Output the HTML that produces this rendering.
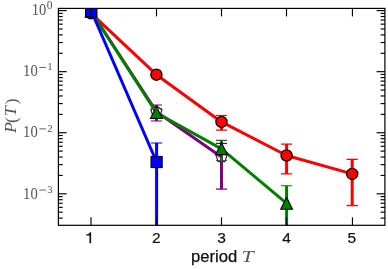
<!DOCTYPE html><html><head><meta charset="utf-8"><style>html,body{margin:0;padding:0;background:#fff}svg{display:block;will-change:transform;transform:translateZ(0)}text{font-family:"Liberation Sans",sans-serif}.s{font-family:"Liberation Serif",serif}</style></head><body>
<svg width="388" height="269" viewBox="0 0 388 269">
<rect width="388" height="269" fill="#fff"/>
<defs><clipPath id="c"><rect x="58.4" y="8.4" width="326.5" height="216.9"/></clipPath></defs>
<g clip-path="url(#c)">
<line x1="221.50" y1="115.5" x2="221.50" y2="130.1" stroke="#ff0000" stroke-width="3.0"/>
<line x1="286.60" y1="144.1" x2="286.60" y2="173.9" stroke="#ff0000" stroke-width="3.0"/>
<line x1="352.20" y1="159.4" x2="352.20" y2="205.6" stroke="#ff0000" stroke-width="3.0"/>
<line x1="156.40" y1="105.0" x2="156.40" y2="121.0" stroke="#800080" stroke-width="3.0"/>
<line x1="221.50" y1="143.4" x2="221.50" y2="189.1" stroke="#800080" stroke-width="3.0"/>
<line x1="156.40" y1="108.5" x2="156.40" y2="117.0" stroke="#008000" stroke-width="3.0"/>
<line x1="221.50" y1="140.4" x2="221.50" y2="160.5" stroke="#008000" stroke-width="3.0"/>
<line x1="286.60" y1="185.7" x2="286.60" y2="260" stroke="#008000" stroke-width="3.0"/>
<line x1="156.60" y1="143.0" x2="156.60" y2="260" stroke="#0000ff" stroke-width="3.0"/>
<polyline points="91.10,13.3 156.40,74.7 221.50,121.95 286.60,155.5 352.20,173.9" fill="none" stroke="#ff0000" stroke-width="3.0" stroke-linejoin="round"/>
<circle cx="91.10" cy="13.3" r="5.6" fill="#ff0000" stroke="#000" stroke-width="1.3"/>
<circle cx="156.40" cy="74.7" r="5.6" fill="#ff0000" stroke="#000" stroke-width="1.3"/>
<circle cx="221.50" cy="121.95" r="5.6" fill="#ff0000" stroke="#000" stroke-width="1.3"/>
<circle cx="286.60" cy="155.5" r="5.6" fill="#ff0000" stroke="#000" stroke-width="1.3"/>
<circle cx="352.20" cy="173.9" r="5.6" fill="#ff0000" stroke="#000" stroke-width="1.3"/>
<line x1="215.90" y1="115.5" x2="227.10" y2="115.5" stroke="#ff0000" stroke-width="1.15"/>
<line x1="215.90" y1="130.1" x2="227.10" y2="130.1" stroke="#ff0000" stroke-width="1.15"/>
<line x1="281.00" y1="144.1" x2="292.20" y2="144.1" stroke="#ff0000" stroke-width="1.15"/>
<line x1="281.00" y1="173.9" x2="292.20" y2="173.9" stroke="#ff0000" stroke-width="1.15"/>
<line x1="346.60" y1="159.4" x2="357.80" y2="159.4" stroke="#ff0000" stroke-width="1.15"/>
<line x1="346.60" y1="205.6" x2="357.80" y2="205.6" stroke="#ff0000" stroke-width="1.15"/>
<polyline points="91.10,11.5 156.40,111.65 221.50,156.9" fill="none" stroke="#800080" stroke-width="3.0" stroke-linejoin="round"/>
<polygon points="91.10,5.70 96.62,9.71 94.51,16.19 87.69,16.19 85.58,9.71" fill="none" stroke="#800080" stroke-width="1.3" stroke-linejoin="miter"/>
<polygon points="156.40,105.85 161.92,109.86 159.81,116.34 152.99,116.34 150.88,109.86" fill="none" stroke="#800080" stroke-width="1.3" stroke-linejoin="miter"/>
<polygon points="221.50,151.10 227.02,155.11 224.91,161.59 218.09,161.59 215.98,155.11" fill="none" stroke="#800080" stroke-width="1.3" stroke-linejoin="miter"/>
<line x1="150.80" y1="105.0" x2="162.00" y2="105.0" stroke="#800080" stroke-width="1.15"/>
<line x1="150.80" y1="121.0" x2="162.00" y2="121.0" stroke="#800080" stroke-width="1.15"/>
<line x1="215.90" y1="143.4" x2="227.10" y2="143.4" stroke="#800080" stroke-width="1.15"/>
<line x1="215.90" y1="189.1" x2="227.10" y2="189.1" stroke="#800080" stroke-width="1.15"/>
<polyline points="91.10,11.5 156.40,112.7 221.50,148.85 286.60,203.45" fill="none" stroke="#008000" stroke-width="3.0" stroke-linejoin="round"/>
<polygon points="91.10,5.30 97.00,17.30 85.20,17.30" fill="#008000" stroke="#000" stroke-width="1.1" stroke-linejoin="miter"/>
<polygon points="156.40,106.50 162.30,118.50 150.50,118.50" fill="#008000" stroke="#000" stroke-width="1.1" stroke-linejoin="miter"/>
<polygon points="221.50,142.65 227.40,154.65 215.60,154.65" fill="#008000" stroke="#000" stroke-width="1.1" stroke-linejoin="miter"/>
<polygon points="286.60,197.25 292.50,209.25 280.70,209.25" fill="#008000" stroke="#000" stroke-width="1.1" stroke-linejoin="miter"/>
<line x1="150.80" y1="108.5" x2="162.00" y2="108.5" stroke="#008000" stroke-width="1.15"/>
<line x1="150.80" y1="117.0" x2="162.00" y2="117.0" stroke="#008000" stroke-width="1.15"/>
<line x1="215.90" y1="140.4" x2="227.10" y2="140.4" stroke="#008000" stroke-width="1.15"/>
<line x1="215.90" y1="160.5" x2="227.10" y2="160.5" stroke="#008000" stroke-width="1.15"/>
<line x1="281.00" y1="185.7" x2="292.20" y2="185.7" stroke="#008000" stroke-width="1.15"/>
<line x1="281.00" y1="260" x2="292.20" y2="260" stroke="#008000" stroke-width="1.15"/>
<polyline points="91.30,11.0 156.60,162.0" fill="none" stroke="#0000ff" stroke-width="3.0" stroke-linejoin="round"/>
<rect x="85.70" y="5.40" width="11.2" height="11.2" fill="#0000ff" stroke="#000" stroke-width="1"/>
<rect x="151.00" y="156.40" width="11.2" height="11.2" fill="#0000ff" stroke="#000" stroke-width="1"/>
<line x1="151.00" y1="143.0" x2="162.20" y2="143.0" stroke="#0000ff" stroke-width="1.15"/>
<line x1="151.00" y1="260" x2="162.20" y2="260" stroke="#0000ff" stroke-width="1.15"/>
</g>
<line x1="91.00" y1="225.3" x2="91.00" y2="217.3" stroke="#000" stroke-width="1.15"/>
<line x1="91.20" y1="8.4" x2="91.20" y2="16.4" stroke="#000" stroke-width="1.15"/>
<line x1="156.50" y1="225.3" x2="156.50" y2="217.3" stroke="#000" stroke-width="1.15"/>
<line x1="156.50" y1="8.4" x2="156.50" y2="16.4" stroke="#000" stroke-width="1.15"/>
<line x1="221.50" y1="225.3" x2="221.50" y2="217.3" stroke="#000" stroke-width="1.15"/>
<line x1="221.50" y1="8.4" x2="221.50" y2="16.4" stroke="#000" stroke-width="1.15"/>
<line x1="286.50" y1="225.3" x2="286.50" y2="217.3" stroke="#000" stroke-width="1.15"/>
<line x1="286.50" y1="8.4" x2="286.50" y2="16.4" stroke="#000" stroke-width="1.15"/>
<line x1="352.45" y1="225.3" x2="352.45" y2="217.3" stroke="#000" stroke-width="1.15"/>
<line x1="352.45" y1="8.4" x2="352.45" y2="16.4" stroke="#000" stroke-width="1.15"/>
<line x1="58.4" y1="10.60" x2="66.7" y2="10.60" stroke="#000" stroke-width="1.15"/>
<line x1="384.9" y1="10.60" x2="376.59999999999997" y2="10.60" stroke="#000" stroke-width="1.15"/>
<line x1="58.4" y1="71.67" x2="66.7" y2="71.67" stroke="#000" stroke-width="1.15"/>
<line x1="384.9" y1="71.67" x2="376.59999999999997" y2="71.67" stroke="#000" stroke-width="1.15"/>
<line x1="58.4" y1="53.29" x2="62.699999999999996" y2="53.29" stroke="#000" stroke-width="1.15"/>
<line x1="384.9" y1="53.29" x2="380.59999999999997" y2="53.29" stroke="#000" stroke-width="1.15"/>
<line x1="58.4" y1="42.53" x2="62.699999999999996" y2="42.53" stroke="#000" stroke-width="1.15"/>
<line x1="384.9" y1="42.53" x2="380.59999999999997" y2="42.53" stroke="#000" stroke-width="1.15"/>
<line x1="58.4" y1="34.90" x2="62.699999999999996" y2="34.90" stroke="#000" stroke-width="1.15"/>
<line x1="384.9" y1="34.90" x2="380.59999999999997" y2="34.90" stroke="#000" stroke-width="1.15"/>
<line x1="58.4" y1="28.98" x2="62.699999999999996" y2="28.98" stroke="#000" stroke-width="1.15"/>
<line x1="384.9" y1="28.98" x2="380.59999999999997" y2="28.98" stroke="#000" stroke-width="1.15"/>
<line x1="58.4" y1="24.15" x2="62.699999999999996" y2="24.15" stroke="#000" stroke-width="1.15"/>
<line x1="384.9" y1="24.15" x2="380.59999999999997" y2="24.15" stroke="#000" stroke-width="1.15"/>
<line x1="58.4" y1="20.06" x2="62.699999999999996" y2="20.06" stroke="#000" stroke-width="1.15"/>
<line x1="384.9" y1="20.06" x2="380.59999999999997" y2="20.06" stroke="#000" stroke-width="1.15"/>
<line x1="58.4" y1="16.52" x2="62.699999999999996" y2="16.52" stroke="#000" stroke-width="1.15"/>
<line x1="384.9" y1="16.52" x2="380.59999999999997" y2="16.52" stroke="#000" stroke-width="1.15"/>
<line x1="58.4" y1="13.39" x2="62.699999999999996" y2="13.39" stroke="#000" stroke-width="1.15"/>
<line x1="384.9" y1="13.39" x2="380.59999999999997" y2="13.39" stroke="#000" stroke-width="1.15"/>
<line x1="58.4" y1="132.74" x2="66.7" y2="132.74" stroke="#000" stroke-width="1.15"/>
<line x1="384.9" y1="132.74" x2="376.59999999999997" y2="132.74" stroke="#000" stroke-width="1.15"/>
<line x1="58.4" y1="114.36" x2="62.699999999999996" y2="114.36" stroke="#000" stroke-width="1.15"/>
<line x1="384.9" y1="114.36" x2="380.59999999999997" y2="114.36" stroke="#000" stroke-width="1.15"/>
<line x1="58.4" y1="103.60" x2="62.699999999999996" y2="103.60" stroke="#000" stroke-width="1.15"/>
<line x1="384.9" y1="103.60" x2="380.59999999999997" y2="103.60" stroke="#000" stroke-width="1.15"/>
<line x1="58.4" y1="95.97" x2="62.699999999999996" y2="95.97" stroke="#000" stroke-width="1.15"/>
<line x1="384.9" y1="95.97" x2="380.59999999999997" y2="95.97" stroke="#000" stroke-width="1.15"/>
<line x1="58.4" y1="90.05" x2="62.699999999999996" y2="90.05" stroke="#000" stroke-width="1.15"/>
<line x1="384.9" y1="90.05" x2="380.59999999999997" y2="90.05" stroke="#000" stroke-width="1.15"/>
<line x1="58.4" y1="85.22" x2="62.699999999999996" y2="85.22" stroke="#000" stroke-width="1.15"/>
<line x1="384.9" y1="85.22" x2="380.59999999999997" y2="85.22" stroke="#000" stroke-width="1.15"/>
<line x1="58.4" y1="81.13" x2="62.699999999999996" y2="81.13" stroke="#000" stroke-width="1.15"/>
<line x1="384.9" y1="81.13" x2="380.59999999999997" y2="81.13" stroke="#000" stroke-width="1.15"/>
<line x1="58.4" y1="77.59" x2="62.699999999999996" y2="77.59" stroke="#000" stroke-width="1.15"/>
<line x1="384.9" y1="77.59" x2="380.59999999999997" y2="77.59" stroke="#000" stroke-width="1.15"/>
<line x1="58.4" y1="74.46" x2="62.699999999999996" y2="74.46" stroke="#000" stroke-width="1.15"/>
<line x1="384.9" y1="74.46" x2="380.59999999999997" y2="74.46" stroke="#000" stroke-width="1.15"/>
<line x1="58.4" y1="193.81" x2="66.7" y2="193.81" stroke="#000" stroke-width="1.15"/>
<line x1="384.9" y1="193.81" x2="376.59999999999997" y2="193.81" stroke="#000" stroke-width="1.15"/>
<line x1="58.4" y1="175.43" x2="62.699999999999996" y2="175.43" stroke="#000" stroke-width="1.15"/>
<line x1="384.9" y1="175.43" x2="380.59999999999997" y2="175.43" stroke="#000" stroke-width="1.15"/>
<line x1="58.4" y1="164.67" x2="62.699999999999996" y2="164.67" stroke="#000" stroke-width="1.15"/>
<line x1="384.9" y1="164.67" x2="380.59999999999997" y2="164.67" stroke="#000" stroke-width="1.15"/>
<line x1="58.4" y1="157.04" x2="62.699999999999996" y2="157.04" stroke="#000" stroke-width="1.15"/>
<line x1="384.9" y1="157.04" x2="380.59999999999997" y2="157.04" stroke="#000" stroke-width="1.15"/>
<line x1="58.4" y1="151.12" x2="62.699999999999996" y2="151.12" stroke="#000" stroke-width="1.15"/>
<line x1="384.9" y1="151.12" x2="380.59999999999997" y2="151.12" stroke="#000" stroke-width="1.15"/>
<line x1="58.4" y1="146.29" x2="62.699999999999996" y2="146.29" stroke="#000" stroke-width="1.15"/>
<line x1="384.9" y1="146.29" x2="380.59999999999997" y2="146.29" stroke="#000" stroke-width="1.15"/>
<line x1="58.4" y1="142.20" x2="62.699999999999996" y2="142.20" stroke="#000" stroke-width="1.15"/>
<line x1="384.9" y1="142.20" x2="380.59999999999997" y2="142.20" stroke="#000" stroke-width="1.15"/>
<line x1="58.4" y1="138.66" x2="62.699999999999996" y2="138.66" stroke="#000" stroke-width="1.15"/>
<line x1="384.9" y1="138.66" x2="380.59999999999997" y2="138.66" stroke="#000" stroke-width="1.15"/>
<line x1="58.4" y1="135.53" x2="62.699999999999996" y2="135.53" stroke="#000" stroke-width="1.15"/>
<line x1="384.9" y1="135.53" x2="380.59999999999997" y2="135.53" stroke="#000" stroke-width="1.15"/>
<line x1="58.4" y1="218.11" x2="62.699999999999996" y2="218.11" stroke="#000" stroke-width="1.15"/>
<line x1="384.9" y1="218.11" x2="380.59999999999997" y2="218.11" stroke="#000" stroke-width="1.15"/>
<line x1="58.4" y1="212.19" x2="62.699999999999996" y2="212.19" stroke="#000" stroke-width="1.15"/>
<line x1="384.9" y1="212.19" x2="380.59999999999997" y2="212.19" stroke="#000" stroke-width="1.15"/>
<line x1="58.4" y1="207.36" x2="62.699999999999996" y2="207.36" stroke="#000" stroke-width="1.15"/>
<line x1="384.9" y1="207.36" x2="380.59999999999997" y2="207.36" stroke="#000" stroke-width="1.15"/>
<line x1="58.4" y1="203.27" x2="62.699999999999996" y2="203.27" stroke="#000" stroke-width="1.15"/>
<line x1="384.9" y1="203.27" x2="380.59999999999997" y2="203.27" stroke="#000" stroke-width="1.15"/>
<line x1="58.4" y1="199.73" x2="62.699999999999996" y2="199.73" stroke="#000" stroke-width="1.15"/>
<line x1="384.9" y1="199.73" x2="380.59999999999997" y2="199.73" stroke="#000" stroke-width="1.15"/>
<line x1="58.4" y1="196.60" x2="62.699999999999996" y2="196.60" stroke="#000" stroke-width="1.15"/>
<line x1="384.9" y1="196.60" x2="380.59999999999997" y2="196.60" stroke="#000" stroke-width="1.15"/>
<rect x="58.4" y="8.4" width="326.5" height="216.9" fill="none" stroke="#000" stroke-width="1.2"/>
<g opacity="0.999">
<text x="156.30" y="243.2" font-size="15.5" text-anchor="middle" fill="#111" stroke="#111" stroke-width="0.2">2</text>
<text x="221.60" y="243.2" font-size="15.5" text-anchor="middle" fill="#111" stroke="#111" stroke-width="0.2">3</text>
<text x="286.45" y="243.2" font-size="15.5" text-anchor="middle" fill="#111" stroke="#111" stroke-width="0.2">4</text>
<text x="351.85" y="243.2" font-size="15.5" text-anchor="middle" fill="#111" stroke="#111" stroke-width="0.2">5</text>
<path d="M91.12,232.15 L91.12,243.2 L89.45,243.2 L89.45,235.50 L86.20,235.50 L86.20,234.30 C88.40,234.15 89.55,233.35 90.00,232.15 Z" fill="#111"/>
<text class="s" x="46.3" y="15.0" font-size="16.5" text-anchor="end" fill="#555" textLength="14.6" lengthAdjust="spacingAndGlyphs">10</text>
<text class="s" x="46.699999999999996" y="9.2" font-size="11.5" text-anchor="start" fill="#555">0</text>
<text class="s" x="37.7" y="75.9" font-size="16.5" text-anchor="end" fill="#555" textLength="14.6" lengthAdjust="spacingAndGlyphs">10</text>
<rect x="39.300000000000004" y="66.95" width="6.7" height="1.0" fill="#666"/>
<text class="s" x="47.300000000000004" y="70.4" font-size="10.8" text-anchor="start" fill="#555">1</text>
<text class="s" x="37.7" y="137.3" font-size="16.5" text-anchor="end" fill="#555" textLength="14.6" lengthAdjust="spacingAndGlyphs">10</text>
<rect x="39.300000000000004" y="128.35" width="6.7" height="1.0" fill="#666"/>
<text class="s" x="47.300000000000004" y="131.8" font-size="10.8" text-anchor="start" fill="#555">2</text>
<text class="s" x="37.7" y="198.5" font-size="16.5" text-anchor="end" fill="#555" textLength="14.6" lengthAdjust="spacingAndGlyphs">10</text>
<rect x="39.300000000000004" y="189.55" width="6.7" height="1.0" fill="#666"/>
<text class="s" x="47.300000000000004" y="193.0" font-size="10.8" text-anchor="start" fill="#555">3</text>
<text x="191.0" y="262.2" font-size="16.8" fill="#111" stroke="#111" stroke-width="0.25" textLength="46.2" lengthAdjust="spacingAndGlyphs">period</text>
<text class="s" x="241.6" y="262.2" font-size="17.6" font-style="italic" fill="#555" textLength="12.2" lengthAdjust="spacingAndGlyphs">T</text>
<g transform="translate(16.2,132.8) rotate(-90)" fill="#555" class="s">
<text class="s" x="-0.3" y="0" font-size="16.5" font-style="italic" textLength="11" lengthAdjust="spacingAndGlyphs">P</text>
<text class="s" x="9.8" y="0.6" font-size="17.5">(</text>
<text class="s" x="16.6" y="0" font-size="16.5" font-style="italic" textLength="10" lengthAdjust="spacingAndGlyphs">T</text>
<text class="s" x="28.6" y="0.6" font-size="17.5">)</text>
</g>
</g>
</svg></body></html>
